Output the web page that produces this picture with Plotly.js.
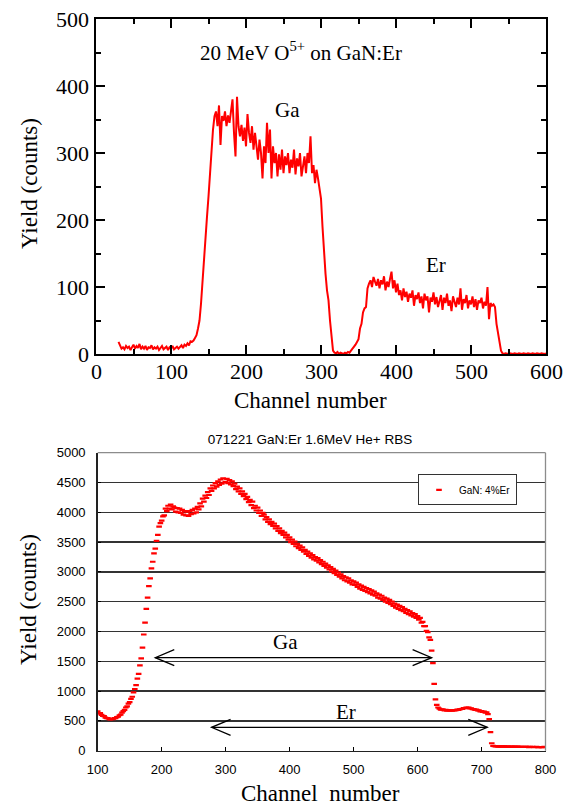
<!DOCTYPE html>
<html>
<head>
<meta charset="utf-8">
<script src="https://cdn.plot.ly/plotly-3.0.1.min.js"></script>
<style>html,body{margin:0;padding:0;background:#fff;}#chart{width:579px;height:805px;}</style>
</head>
<body>
<div id="chart"></div>
<script>
// ---------- Top chart: 20 MeV O5+ on GaN:Er ----------
const topStart = 30, topStep = 2;
const topYield = [
  18,12,8,10,7,12,9,11,6,10,
  14,8,12,9,15,7,11,8,12,6,
  10,9,13,7,10,8,11,6,10,12,
  7,9,11,6,10,8,12,7,9,11,
  8,10,13,9,14,12,16,13,19,18,
  20,24,28,38,50,75,110,150,170,205,
  235,270,305,335,355,362,340,371,312,355,
  348,362,340,356,345,365,380,330,295,384,
  340,325,342,318,338,310,358,330,315,340,
  305,330,312,290,320,300,262,310,285,345,
  300,335,262,310,285,300,265,298,275,305,
  270,295,282,300,270,290,278,305,268,292,
  280,300,265,285,295,270,300,285,325,270,
  282,255,275,262,250,232,190,150,120,95,
  80,50,20,5,2,1,3,0,2,1,
  0,2,1,3,2,5,8,10,14,18,
  22,38,45,62,68,70,98,105,110,100,
  115,108,102,112,98,110,104,116,95,108,
  100,112,123,98,110,92,105,88,95,80,
  98,85,93,78,90,84,95,72,88,82,
  92,76,86,68,90,80,86,62,84,78,
  92,74,85,70,82,88,66,84,76,90,
  72,80,64,86,78,70,84,74,98,66,
  82,76,88,68,80,74,86,70,82,66,
  80,76,84,68,78,72,100,52,76,72,
  74,70,45,30,15,5,1,0,1,0,
  0,1,0,0,1,0,0,1,0,0,
  1,0,0,1,0,0,1,0,0,1,
  0,0,1,0,0,1
];
const topXTicks = [0,100,200,300,400,500,600];
const topYTicks = [0,100,200,300,400,500];
const topTitle = '20 MeV O<sup>5+</sup> on GaN:Er';
const topXTitle = 'Channel number';
const topYTitle = 'Yield (counts)';
const topLabels = [{text:'Ga', ch:255, y:364}, {text:'Er', ch:453, y:133}];

// ---------- Bottom chart: 071221 GaN:Er 1.6MeV He+ RBS ----------
const botStart = 100, botStep = 2;
const botYield = [
  660,625,630,600,585,580,555,548,545,530,
  525,535,530,545,548,565,570,595,605,640,
  665,685,725,745,790,815,870,905,980,1035,
  1100,1210,1290,1430,1550,1730,1950,2150,2380,2570,
  2760,2890,3060,3170,3310,3390,3520,3620,3760,3820,
  3860,3930,3950,4060,4020,4110,4060,4130,4050,4100,
  4080,4010,4070,4000,4060,3990,4040,3960,4020,3950,
  4010,3940,4020,3970,4040,3980,4060,4000,4090,4050,
  4150,4100,4230,4180,4280,4240,4340,4290,4400,4360,
  4450,4400,4490,4430,4520,4460,4550,4480,4570,4500,
  4510,4560,4490,4540,4470,4520,4440,4480,4390,4430,
  4350,4400,4310,4350,4270,4310,4220,4260,4170,4210,
  4120,4180,4070,4110,4030,4080,3990,4030,3940,3990,
  3960,3880,3920,3840,3880,3800,3840,3770,3810,3730,
  3770,3690,3730,3650,3690,3620,3660,3580,3620,3540,
  3580,3500,3540,3470,3510,3430,3470,3400,3440,3370,
  3410,3340,3370,3300,3340,3270,3310,3240,3280,3210,
  3250,3190,3230,3160,3200,3130,3170,3100,3140,3070,
  3110,3040,3080,3010,3050,2980,3020,2950,2990,2920,
  2960,2890,2930,2860,2910,2840,2890,2820,2860,2790,
  2840,2780,2820,2750,2790,2720,2770,2700,2750,2680,
  2730,2660,2710,2640,2690,2620,2670,2600,2640,2570,
  2620,2550,2600,2530,2570,2500,2550,2480,2530,2460,
  2500,2430,2470,2400,2450,2380,2430,2360,2410,2340,
  2380,2310,2360,2290,2340,2270,2310,2250,2290,2230,
  2260,2200,2230,2150,2160,2090,2090,2010,1990,1900,
  1860,1680,1470,1120,860,770,725,705,690,695,
  690,675,685,670,680,672,678,670,682,676,
  680,688,684,695,700,702,715,712,725,718,
  722,708,710,698,698,686,690,676,675,660,
  665,650,655,640,645,615,530,310,125,82,
  76,72,75,70,73,69,72,68,71,70,
  68,70,66,69,67,65,68,66,67,64,
  66,63,65,62,64,66,63,61,64,62,
  63,60,62,64,61,60,62,59,61,63,
  62
];
const botSeriesName = 'GaN: 4%Er';
const botTitle = '071221 GaN:Er 1.6MeV He+ RBS';
const botXTitle = 'Channel\u00a0\u00a0number';
const botYTitle = 'Yield (counts)';
const botLabels = [{text:'Ga', ch:393, y:1829}, {text:'Er', ch:488, y:654}];
// energy-range arrows: [left channel, right channel, yield level]
const gaArrow = [190, 622, 1560];
const erArrow = [278, 709, 392];

const topX = topYield.map((_, i) => topStart + i * topStep);
const botX = botYield.map((_, i) => botStart + i * botStep);

const W = 579, H = 805;
const serif = 'Liberation Serif';
const sans = 'Liberation Sans';

const topBox = {l:96, r:546, t:19, b:354};
const botBox = {l:97.7, r:545.5, t:452.7, b:750.7};

const traces = [
  {x: topX, y: topYield, type:'scatter', mode:'lines', xaxis:'x', yaxis:'y',
   line:{color:'#ff0000', width:2}, showlegend:false, name:'20 MeV O5+'},
  {x: botX, y: botYield, type:'scatter', mode:'markers', xaxis:'x2', yaxis:'y2',
   name: botSeriesName,
   marker:{symbol:'line-ew', size:4, color:'#ff0000', line:{color:'#ff0000', width:2.2}}}
];

const chPerPx = (800-100)/(botBox.r-botBox.l);
const cntPerPx = 5000/(botBox.b-botBox.t);
const hx = 19*chPerPx, hy = 8*cntPerPx;
function arrowShapes(a){
  const [x0,x1,y] = a;
  const common = {type:'path', xref:'x2', yref:'y2', line:{color:'#000', width:1.3}};
  return [
    Object.assign({path:`M ${x0},${y} L ${x1},${y}`}, common),
    Object.assign({path:`M ${x0+hx},${y+hy} L ${x0},${y} L ${x0+hx},${y-hy}`}, common),
    Object.assign({path:`M ${x1-hx},${y+hy} L ${x1},${y} L ${x1-hx},${y-hy}`}, common)
  ];
}

const shapes = [
  {type:'line', xref:'x2 domain', yref:'y2 domain', x0:0, x1:1, y0:1, y1:1, line:{color:'#8c8c8c', width:1.3}},
  {type:'line', xref:'x2 domain', yref:'y2 domain', x0:1, x1:1, y0:0, y1:1, line:{color:'#8c8c8c', width:1.3}},
  ...arrowShapes(gaArrow),
  ...arrowShapes(erArrow)
];

const serifFont = (size) => ({family:serif, size:size, color:'#000'});

const annotations = [
  {text: topTitle, xref:'paper', yref:'paper', x: 301/W, y: 1-52/H, xanchor:'center', yanchor:'middle',
   showarrow:false, font:serifFont(21)},
  ...topLabels.map(l => ({text:l.text, xref:'x', yref:'y', x:l.ch, y:l.y, showarrow:false,
     xanchor:'center', yanchor:'middle', font:serifFont(21)})),
  ...botLabels.map(l => ({text:l.text, xref:'x2', yref:'y2', x:l.ch, y:l.y, showarrow:false,
     xanchor:'center', yanchor:'middle', font:serifFont(21)})),
  // top chart tick labels (serif, Times-like)
  ...topXTicks.map(v => ({text:String(v), xref:'x', yref:'y', x:v, y:0, showarrow:false,
     xanchor:'center', yanchor:'top', yshift:-3, font:serifFont(22)})),
  ...topYTicks.map(v => ({text:String(v), xref:'x', yref:'y', x:0, y:v, showarrow:false,
     xanchor:'right', yanchor:'middle', xshift:-5, font:serifFont(22)})),
  // axis titles
  {text: topXTitle, xref:'paper', yref:'paper', x: 310/W, y: 1-400/H, xanchor:'center', yanchor:'middle',
   showarrow:false, font:serifFont(23)},
  {text: topYTitle, xref:'paper', yref:'paper', x: 30/W, y: 1-184/H, xanchor:'center', yanchor:'middle',
   textangle:-90, showarrow:false, font:serifFont(23)},
  {text: botXTitle, xref:'paper', yref:'paper', x: 320/W, y: 1-793/H, xanchor:'center', yanchor:'middle',
   showarrow:false, font:serifFont(23)},
  {text: botYTitle, xref:'paper', yref:'paper', x: 28/W, y: 1-600/H, xanchor:'center', yanchor:'middle',
   textangle:-90, showarrow:false, font:serifFont(23)}
];

const layout = {
  width: W, height: H,
  margin:{l:0, r:0, t:0, b:0},
  font:{family: serif, color:'#000'},
  paper_bgcolor:'#fff', plot_bgcolor:'#fff',
  showlegend: true,
  title:{text: botTitle, x: 310/W, y: 1-439/H, xanchor:'center', yanchor:'middle',
         font:{family:sans, size:13.5, color:'#000'}},
  xaxis:{
    domain:[topBox.l/W, topBox.r/W], anchor:'y', range:[0,600],
    tick0:0, dtick:100, ticks:'inside', ticklen:9, tickwidth:2, tickcolor:'#000',
    minor:{dtick:50, ticks:'inside', ticklen:5, tickwidth:2, tickcolor:'#000'},
    showline:true, linewidth:2, linecolor:'#000', mirror:'ticks',
    showgrid:false, zeroline:false, showticklabels:false
  },
  yaxis:{
    domain:[1-topBox.b/H, 1-topBox.t/H], anchor:'x', range:[0,500],
    tick0:0, dtick:100, ticks:'inside', ticklen:9, tickwidth:2, tickcolor:'#000',
    minor:{dtick:50, ticks:'inside', ticklen:5, tickwidth:2, tickcolor:'#000'},
    showline:true, linewidth:2, linecolor:'#000', mirror:'ticks',
    showgrid:false, zeroline:false, showticklabels:false
  },
  xaxis2:{
    domain:[botBox.l/W, botBox.r/W], anchor:'y2', range:[100,800],
    tick0:100, dtick:100, ticks:'inside', ticklen:4, tickwidth:1, tickcolor:'#000',
    showline:true, linewidth:1.5, linecolor:'#222', mirror:false,
    showgrid:false, zeroline:false,
    tickfont:{family:sans, size:13, color:'#000'}, ticklabelstandoff:6
  },
  yaxis2:{
    domain:[1-botBox.b/H, 1-botBox.t/H], anchor:'x2', range:[0,5000],
    tick0:0, dtick:500, ticks:'inside', ticklen:3, tickwidth:1, tickcolor:'#000',
    showline:true, linewidth:1.5, linecolor:'#222', mirror:false,
    showgrid:true, gridcolor:'#333', gridwidth:1.2, zeroline:false,
    tickfont:{family:sans, size:13, color:'#000'}, ticklabelstandoff:8
  },
  legend:{x: 517/W, xanchor:'right', y: 1-474.3/H, yanchor:'top',
          bgcolor:'#fff', bordercolor:'#333', borderwidth:1, itemwidth:30,
          font:{family:sans, size:10, color:'#000'}, tracegroupgap:0},
  shapes: shapes,
  annotations: annotations
};

Plotly.newPlot('chart', traces, layout, {staticPlot:true, displayModeBar:false});
</script>
</body>
</html>
